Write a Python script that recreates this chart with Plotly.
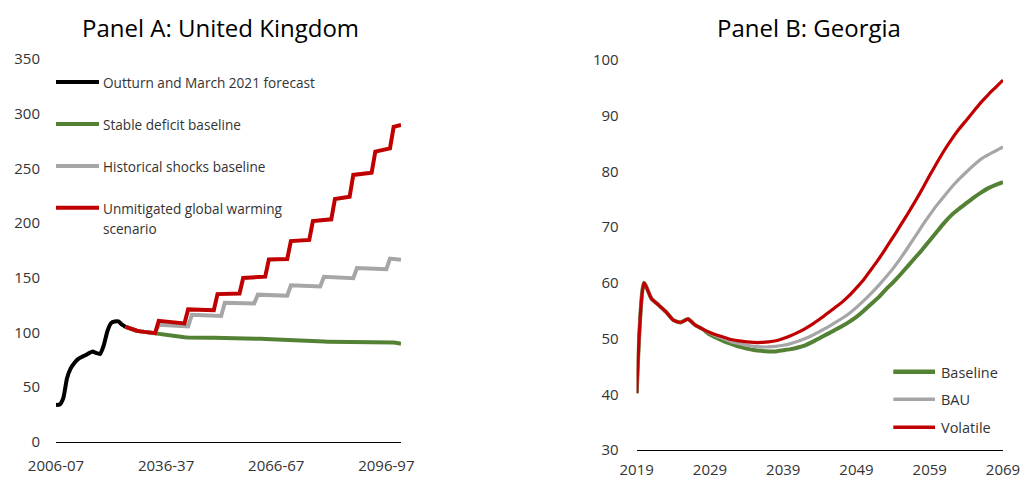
import plotly.graph_objects as go

W, H = 1021, 481

# ---------------- Panel A: United Kingdom (debt, % of GDP) ----------------
uk_years = list(range(2006, 2101))
uk_tick_years = [2006, 2036, 2066, 2096]
uk_tick_labels = ["2006-07", "2036-37", "2066-67", "2096-97"]

uk_outturn = [33.5, 34.0, 40.0, 58.0, 67.0, 72.0, 75.5, 77.5, 79.0, 81.0,
              82.5, 81.0, 80.3, 88.0, 101.0, 108.5, 110.0, 110.0, 107.0, 105.0]

uk_stable = [105.0, 103.5, 102.3, 101.5, 100.9, 100.4, 100.0, 99.6, 99.3,
             98.7, 98.1, 97.5, 97.0, 96.6, 96.2, 95.9, 95.6, 95.4,
             95.2, 95.1, 95.0, 95.0, 95.0, 95.0, 95.0, 95.0, 94.9,
             94.9, 94.9, 94.8, 94.8, 94.7, 94.6, 94.5, 94.4, 94.3,
             94.2, 94.1, 94.0, 93.8, 93.6, 93.4, 93.3, 93.2, 93.0,
             92.8, 92.6, 92.4, 92.2, 92.1, 92.0, 91.9, 91.8, 91.7,
             91.6, 91.5, 91.5, 91.4, 91.3, 91.2, 91.1, 91.1, 91.0,
             91.0, 91.0, 91.0, 91.0, 91.0, 91.0, 91.0, 90.9, 90.9,
             90.9, 90.8, 90.3, 89.6]

uk_shocks = [105.0, 103.5, 102.3, 101.5, 100.9, 100.4, 100.0, 99.6, 99.3,
             107.0, 106.8, 106.6, 106.4, 106.2, 106.0, 105.8, 105.6, 105.5,
             116.0, 115.9, 115.8, 115.6, 115.5, 115.3, 115.2, 115.1, 115.0,
             127.0, 127.0, 126.9, 126.9, 126.8, 126.8, 126.7, 126.6, 126.5,
             134.5, 134.4, 134.3, 134.2, 134.0, 133.9, 133.8, 133.6, 133.5,
             143.0, 142.9, 142.7, 142.6, 142.5, 142.3, 142.2, 142.1, 142.0,
             150.8, 150.7, 150.5, 150.4, 150.2, 150.0, 149.8, 149.6, 149.5,
             158.8, 158.7, 158.6, 158.4, 158.3, 158.2, 158.0, 157.9, 157.8,
             167.5, 167.2, 166.8, 166.5]

uk_warming = [105.0, 103.5, 102.3, 101.5, 100.9, 100.4, 100.0, 99.6, 99.3,
              110.5, 110.1, 109.7, 109.4, 109.1, 108.8, 108.5, 108.2,
              121.0, 120.9, 120.8, 120.7, 120.6, 120.5, 120.4, 120.3,
              135.0, 135.1, 135.2, 135.3, 135.4, 135.5, 135.6,
              149.7, 149.9, 150.1, 150.3, 150.5, 150.7, 150.9,
              166.6, 166.7, 166.8, 166.9, 167.0, 167.1,
              183.5, 183.7, 183.9, 184.1, 184.3, 184.5,
              201.8, 202.1, 202.4, 202.8, 203.1, 203.4,
              222.0, 222.5, 223.0, 223.5, 224.0,
              244.0, 244.4, 244.8, 245.2, 245.6, 246.0,
              265.3, 266.0, 266.8, 267.5, 268.3,
              288.0, 289.0, 289.7]

uk_names = ["Outturn and March 2021 forecast", "Stable deficit baseline",
            "Historical shocks baseline", "Unmitigated global warming scenario"]

# ---------------- Panel B: Georgia ----------------
geo_years = list(range(2019, 2070))
geo_tick_years = [2019, 2029, 2039, 2049, 2059, 2069]

geo_baseline = [40.2, 60.0, 57.2, 56.0, 54.8, 53.3, 52.9, 53.5, 52.4, 51.7,
                50.7, 50.05, 49.45, 49.0, 48.55, 48.2, 47.95, 47.8, 47.7, 47.7,
                47.9, 48.1, 48.4, 48.8, 49.4, 50.1, 50.8, 51.5, 52.2, 53.0,
                53.9, 55.0, 56.2, 57.4, 58.8, 60.1, 61.5, 63.0, 64.5, 66.0,
                67.6, 69.2, 70.8, 72.2, 73.3, 74.3, 75.3, 76.2, 77.0, 77.6,
                78.1]
geo_bau = [40.2, 60.0, 57.2, 56.0, 54.8, 53.3, 52.9, 53.5, 52.4, 51.7,
           51.0, 50.4, 49.9, 49.4, 49.1, 48.8, 48.6, 48.5, 48.5, 48.6,
           48.8, 49.1, 49.5, 50.0, 50.6, 51.3, 52.0, 52.8, 53.6, 54.5,
           55.6, 56.8, 58.1, 59.5, 61.0, 62.6, 64.4, 66.3, 68.3, 70.3,
           72.2, 74.0, 75.6, 77.2, 78.6, 79.9, 81.1, 82.2, 83.0, 83.7,
           84.4]
geo_volatile = [40.2, 60.0, 57.2, 56.0, 54.8, 53.3, 52.9, 53.5, 52.4, 51.7,
                51.1, 50.6, 50.2, 49.8, 49.6, 49.4, 49.3, 49.3, 49.4, 49.6,
                50.0, 50.5, 51.1, 51.8, 52.6, 53.5, 54.5, 55.5, 56.5, 57.7,
                59.1, 60.6, 62.4, 64.2, 66.2, 68.2, 70.3, 72.4, 74.6, 76.9,
                79.3, 81.6, 83.8, 85.8, 87.6, 89.2, 90.8, 92.4, 93.8, 95.1,
                96.4]
geo_names = ["Baseline", "BAU", "Volatile"]

# ---------------- styling ----------------
BLACK, GREEN, GREY, RED = "#000000", "#548235", "#A6A6A6", "#C00000"
FONT = "Open Sans"
TXT = "#333333"


def px(x):
    return x / W


def py(y):
    return 1 - y / H


fig = go.Figure()

# Panel A traces
fig.add_trace(go.Scatter(x=uk_years[:len(uk_outturn)], y=uk_outturn, mode="lines",
                         name=uk_names[0],
                         line=dict(color=BLACK, width=4, shape="spline", smoothing=0.5),
                         xaxis="x", yaxis="y"))
start = len(uk_outturn) - 1
for vals, name, col in [(uk_stable, uk_names[1], GREEN),
                        (uk_shocks, uk_names[2], GREY),
                        (uk_warming, uk_names[3], RED)]:
    fig.add_trace(go.Scatter(x=uk_years[start:start + len(vals)], y=vals, mode="lines",
                             name=name, line=dict(color=col, width=4),
                             xaxis="x", yaxis="y"))

# Panel B traces
for vals, name, col, w in [(geo_baseline, geo_names[0], GREEN, 4),
                           (geo_bau, geo_names[1], GREY, 3.2),
                           (geo_volatile, geo_names[2], RED, 3.2)]:
    fig.add_trace(go.Scatter(x=geo_years, y=vals, mode="lines", name=name,
                             line=dict(color=col, width=w, shape="spline", smoothing=0.6),
                             xaxis="x2", yaxis="y2"))

tickfont = dict(family=FONT, size=15, color=TXT)

fig.update_layout(
    width=W, height=H, margin=dict(l=0, r=0, t=0, b=0, autoexpand=False),
    paper_bgcolor="white", plot_bgcolor="white", showlegend=False,
    font=dict(family=FONT, color=TXT),
    xaxis=dict(domain=[px(56), px(401)], range=[2006, 2100], anchor="y",
               tickmode="array", tickvals=uk_tick_years, ticktext=uk_tick_labels,
               showgrid=False, zeroline=False, showline=True, linecolor="#000000",
               linewidth=1.3, ticks="", tickfont=tickfont, ticklabelstandoff=10,
               automargin=False),
    yaxis=dict(domain=[py(441.7), py(59)], range=[0, 350], dtick=50, anchor="x",
               showgrid=False, zeroline=False, showline=False, ticks="",
               tickfont=tickfont, ticklabelstandoff=15, automargin=False),
    xaxis2=dict(domain=[px(636.7), px(1003)], range=[2019, 2069], anchor="y2",
                tickmode="array", tickvals=geo_tick_years,
                showgrid=False, zeroline=False, showline=True, linecolor="#000000",
                linewidth=1.3, ticks="", tickfont=tickfont, ticklabelstandoff=6,
                automargin=False),
    yaxis2=dict(domain=[py(450), py(60)], range=[30, 100], dtick=10, anchor="x2",
                showgrid=False, zeroline=False, showline=False, ticks="",
                tickfont=tickfont, ticklabelstandoff=17, automargin=False),
)

# Titles
for text, cx in [("Panel A: United Kingdom", 220.5), ("Panel B: Georgia", 808.8)]:
    fig.add_annotation(text=text, x=px(cx), y=py(27.3), xref="paper", yref="paper",
                       xanchor="center", yanchor="middle", showarrow=False,
                       font=dict(family=FONT, size=24, color="#000000"))

# Legends (Panel A)
legA = [(82.0, BLACK, 4, ["Outturn and March 2021 forecast"]),
        (124.0, GREEN, 4, ["Stable deficit baseline"]),
        (166.0, GREY, 4, ["Historical shocks baseline"]),
        (207.7, RED, 4, ["Unmitigated global warming", "scenario"])]
for yy, col, w, lines in legA:
    fig.add_shape(type="line", xref="paper", yref="paper", x0=px(56), x1=px(99),
                  y0=py(yy), y1=py(yy), line=dict(color=col, width=w))
    for k, t in enumerate(lines):
        fig.add_annotation(text=t, x=px(101), y=py(yy + 0.5 + 20 * k), xref="paper",
                           yref="paper", xanchor="left", yanchor="middle",
                           showarrow=False, font=dict(family=FONT, size=13.6, color=TXT))

# Legends (Panel B)
legB = [(371.7, GREEN, 4.5, geo_names[0]), (399.3, GREY, 3.5, geo_names[1]),
        (427.3, RED, 3.5, geo_names[2])]
for yy, col, w, t in legB:
    fig.add_shape(type="line", xref="paper", yref="paper", x0=px(893.3), x1=px(935),
                  y0=py(yy), y1=py(yy), line=dict(color=col, width=w))
    fig.add_annotation(text=t, x=px(939.3), y=py(yy + 0.5), xref="paper",
                       yref="paper", xanchor="left", yanchor="middle",
                       showarrow=False, font=dict(family=FONT, size=14.5, color=TXT))

fig.write_html("out.html", config={"displayModeBar": False})
